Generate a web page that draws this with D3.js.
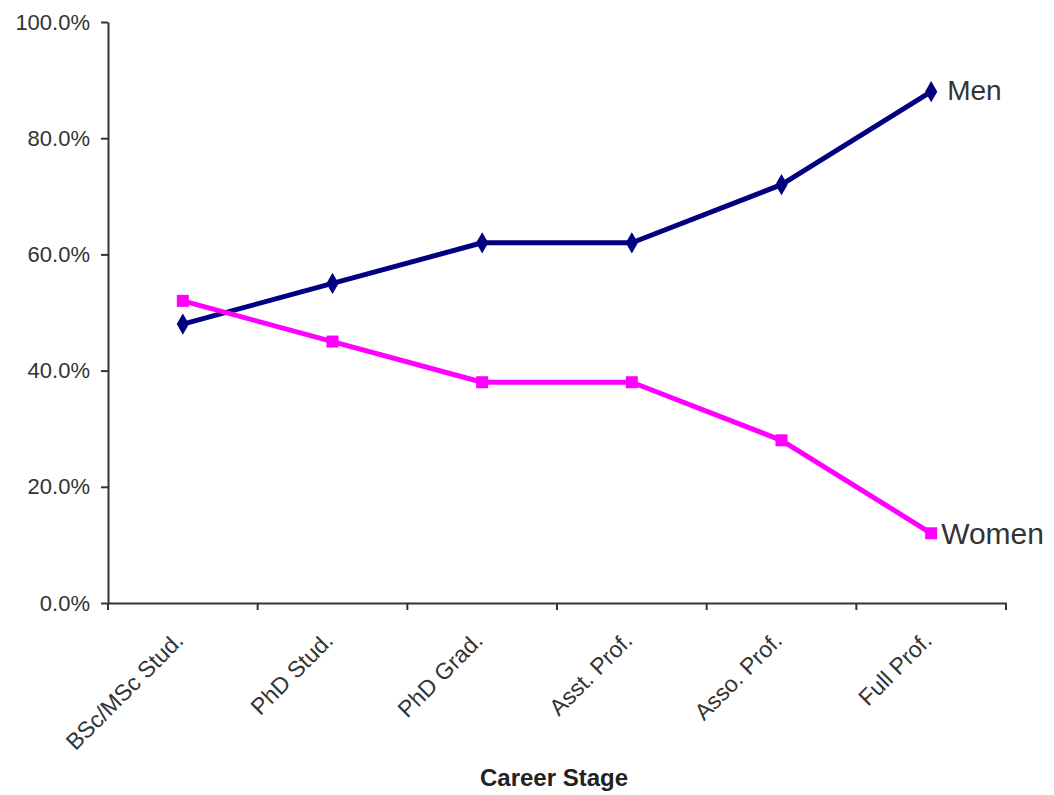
<!DOCTYPE html>
<html>
<head>
<meta charset="utf-8">
<script src="https://cdn.jsdelivr.net/npm/d3@7"></script>
<style>
  html, body { margin: 0; padding: 0; background: #fff; }
  svg { display: block; }
  text { font-family: "Liberation Sans", Arial, sans-serif; }
</style>
</head>
<body>
<svg id="chart" width="1054" height="795"></svg>
<script>
const categories = ["BSc/MSc Stud.", "PhD Stud.", "PhD Grad.", "Asst. Prof.", "Asso. Prof.", "Full Prof."];
const menValues = [48, 55, 62, 62, 72, 88];
const womenValues = [52, 45, 38, 38, 28, 12];
const yTicks = [0, 20, 40, 60, 80, 100];
const seriesNames = ["Men", "Women"];
const xTitle = "Career Stage";

const svg = d3.select("#chart");
const mLeft = 108, mRight = 1006, mTop = 22, mBottom = 603;

const x = d3.scaleBand().domain(categories).range([mLeft, mRight]).padding(0);
const y = d3.scaleLinear().domain([0, 100]).range([mBottom, mTop]);
const cx = c => x(c) + x.bandwidth() / 2;

const axisColor = "#333";

// Y axis
const yAxis = svg.append("g")
  .attr("transform", `translate(${mLeft},0)`)
  .call(d3.axisLeft(y).tickValues(yTicks).tickFormat(d => d.toFixed(1) + "%").tickSize(7).tickPadding(11).tickSizeOuter(0));
yAxis.select(".domain").attr("stroke", axisColor).attr("stroke-width", 2);
yAxis.selectAll(".tick line").attr("stroke", axisColor).attr("stroke-width", 2);
yAxis.selectAll(".tick text").attr("font-size", 22).attr("fill", "#333")
  .attr("font-family", "'Liberation Sans', Arial, sans-serif");

// X axis (domain line + boundary ticks)
const xAxis = svg.append("g")
  .attr("transform", `translate(0,${mBottom})`)
  .call(d3.axisBottom(x).tickSize(0).tickFormat("").tickSizeOuter(0));
xAxis.select(".domain").attr("stroke", axisColor).attr("stroke-width", 2);
xAxis.selectAll(".tick").remove();
const boundaries = categories.map(c => x(c)).concat([x(categories[categories.length - 1]) + x.bandwidth()]);
xAxis.selectAll("line.bt").data(boundaries).enter().append("line")
  .attr("class", "bt")
  .attr("x1", d => d).attr("x2", d => d)
  .attr("y1", 0).attr("y2", 7)
  .attr("stroke", axisColor).attr("stroke-width", 2);

// X tick labels, rotated
svg.append("g").selectAll("text").data(categories).enter().append("text")
  .attr("transform", d => `translate(${cx(d) + 2},${mBottom + 39}) rotate(-45)`)
  .attr("text-anchor", "end")
  .attr("font-size", 23)
  .attr("fill", "#333")
  .text(d => d);

// X title
svg.append("text")
  .attr("x", (mLeft + mRight) / 2 - 3)
  .attr("y", 786)
  .attr("text-anchor", "middle")
  .attr("font-size", 24)
  .attr("font-weight", "bold")
  .attr("fill", "#222")
  .text(xTitle);

const line = d3.line().x((d, i) => cx(categories[i])).y(d => y(d));

// Men
svg.append("path").datum(menValues)
  .attr("d", line).attr("fill", "none")
  .attr("stroke", "#000080").attr("stroke-width", 5).attr("stroke-linejoin", "round");
svg.append("g").selectAll("path").data(menValues).enter().append("path")
  .attr("d", d3.symbol().type(d3.symbolDiamond).size(130))
  .attr("transform", (d, i) => `translate(${cx(categories[i])},${y(d)})`)
  .attr("fill", "#000080");

// Women
svg.append("path").datum(womenValues)
  .attr("d", line).attr("fill", "none")
  .attr("stroke", "#ff00ff").attr("stroke-width", 5).attr("stroke-linejoin", "round");
svg.append("g").selectAll("rect").data(womenValues).enter().append("rect")
  .attr("x", (d, i) => cx(categories[i]) - 6)
  .attr("y", d => y(d) - 6)
  .attr("width", 12).attr("height", 12)
  .attr("fill", "#ff00ff");

// Series labels
const lastCat = categories[categories.length - 1];
svg.append("text")
  .attr("x", cx(lastCat) + 16)
  .attr("y", y(menValues[menValues.length - 1]) + 8)
  .attr("font-size", 28).attr("fill", "#333")
  .text(seriesNames[0]);
svg.append("text")
  .attr("x", cx(lastCat) + 10)
  .attr("y", y(womenValues[womenValues.length - 1]) + 11)
  .attr("font-size", 30).attr("fill", "#333")
  .text(seriesNames[1]);
</script>
</body>
</html>
